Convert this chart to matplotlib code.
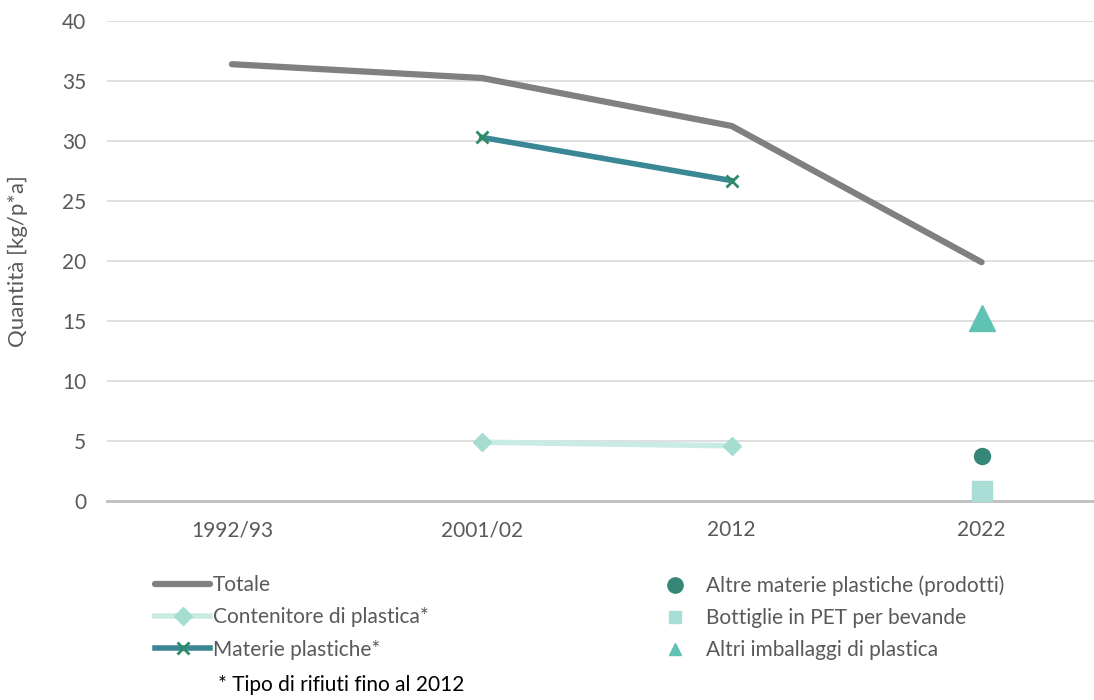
import numpy as np
import matplotlib.pyplot as plt
from matplotlib.lines import Line2D

plt.rcParams['font.family'] = ['Lato', 'DejaVu Sans']

periodi = ['1992/93', '2001/02', '2012', '2022']
totale = [36.4, 35.25, 31.25, 19.9]
materie_plastiche = [30.3, 26.7]          # 2001/02, 2012
contenitore = [4.9, 4.6]                  # 2001/02, 2012
altre_materie = [3.75]                    # 2022
bottiglie_pet = [0.8]                     # 2022
altri_imballaggi = [15.25]                # 2022

grigio_testo = '#595959'
c_tot = '#808080'
c_mat = '#3A8796'
c_mat_mk = '#2E8B66'
c_cont = '#C8ECE3'
c_cont_mk = '#A6DDD1'
c_altre = '#358676'
c_pet = '#A8DED5'
c_imb = '#5FC2B2'

x = np.arange(len(periodi))

fig = plt.figure(figsize=(10.94, 7.0), dpi=100)
ax = fig.add_axes([0.0978, 0.2843, 0.9022, 0.6857])

ax.plot(x, totale, color=c_tot, lw=4.5, solid_capstyle='round', zorder=3)
ax.plot(x[1:3], materie_plastiche, color=c_mat, lw=4, marker='x', ms=9,
        mew=2, mec=c_mat_mk, zorder=4)
ax.plot(x[1:3], contenitore, color=c_cont, lw=4, marker='D', ms=9,
        mfc=c_cont_mk, mec=c_cont_mk, zorder=4)
ax.plot(x[3:], altre_materie, ls='none', marker='o', ms=11.5,
        color=c_altre, zorder=5)
ax.plot(x[3:], bottiglie_pet, ls='none', marker='s', ms=15,
        color=c_pet, zorder=5)
ax.plot(x[3:], altri_imballaggi, ls='none', marker='^', ms=19,
        color=c_imb, zorder=5)

ax.set_xlim(-0.5, 3.45)
ax.set_ylim(0, 40)
ax.set_yticks(np.arange(0, 41, 5))
ax.set_xticks(x)
ax.set_xticklabels(periodi)
ax.tick_params(axis='both', length=0, labelsize=15, colors=grigio_testo)
ax.tick_params(axis='y', pad=15)
ax.tick_params(axis='x', pad=14)
ax.grid(axis='y', color='#D9D9D9', lw=1.2)
ax.set_axisbelow(True)
for s in ['top', 'right', 'left']:
    ax.spines[s].set_visible(False)
ax.spines['bottom'].set_color('#BFBFBF')
ax.spines['bottom'].set_linewidth(2)
ax.set_ylabel('Quantità [kg/p*a]', fontsize=16, color=grigio_testo)
ax.yaxis.set_label_coords(-0.08, 0.5)

# legenda: linee a sinistra, punti a destra
h_sx = [
    Line2D([], [], color=c_tot, lw=4.5, solid_capstyle='round'),
    Line2D([], [], color=c_cont, lw=4, marker='D', ms=9, mfc=c_cont_mk, mec=c_cont_mk),
    Line2D([], [], color=c_mat, lw=4, marker='x', ms=9, mew=2, mec=c_mat_mk),
]
l_sx = ['Totale', 'Contenitore di plastica*', 'Materie plastiche*']
h_dx = [
    Line2D([], [], ls='none', marker='o', ms=11, color=c_altre),
    Line2D([], [], ls='none', marker='s', ms=9, color=c_pet),
    Line2D([], [], ls='none', marker='^', ms=8, color=c_imb),
]
l_dx = ['Altre materie plastiche (prodotti)', 'Bottiglie in PET per bevande',
        'Altri imballaggi di plastica']

leg1 = fig.legend(h_sx, l_sx, loc='upper left', bbox_to_anchor=(0.1417, 0.178),
                  frameon=False, fontsize=15, handlelength=2.64, handletextpad=0.15,
                  labelspacing=0.58, borderaxespad=0, borderpad=0)
leg2 = fig.legend(h_dx, l_dx, loc='upper left', bbox_to_anchor=(0.6025, 0.178),
                  frameon=False, fontsize=15, handlelength=1.5, handletextpad=0.77,
                  labelspacing=0.58, borderaxespad=0, borderpad=0)
for leg in (leg1, leg2):
    for t in leg.get_texts():
        t.set_color(grigio_testo)

fig.text(0.199, 0.013, '* Tipo di rifiuti fino al 2012', fontsize=15, color='black')

fig.savefig('out.png', dpi=100)
